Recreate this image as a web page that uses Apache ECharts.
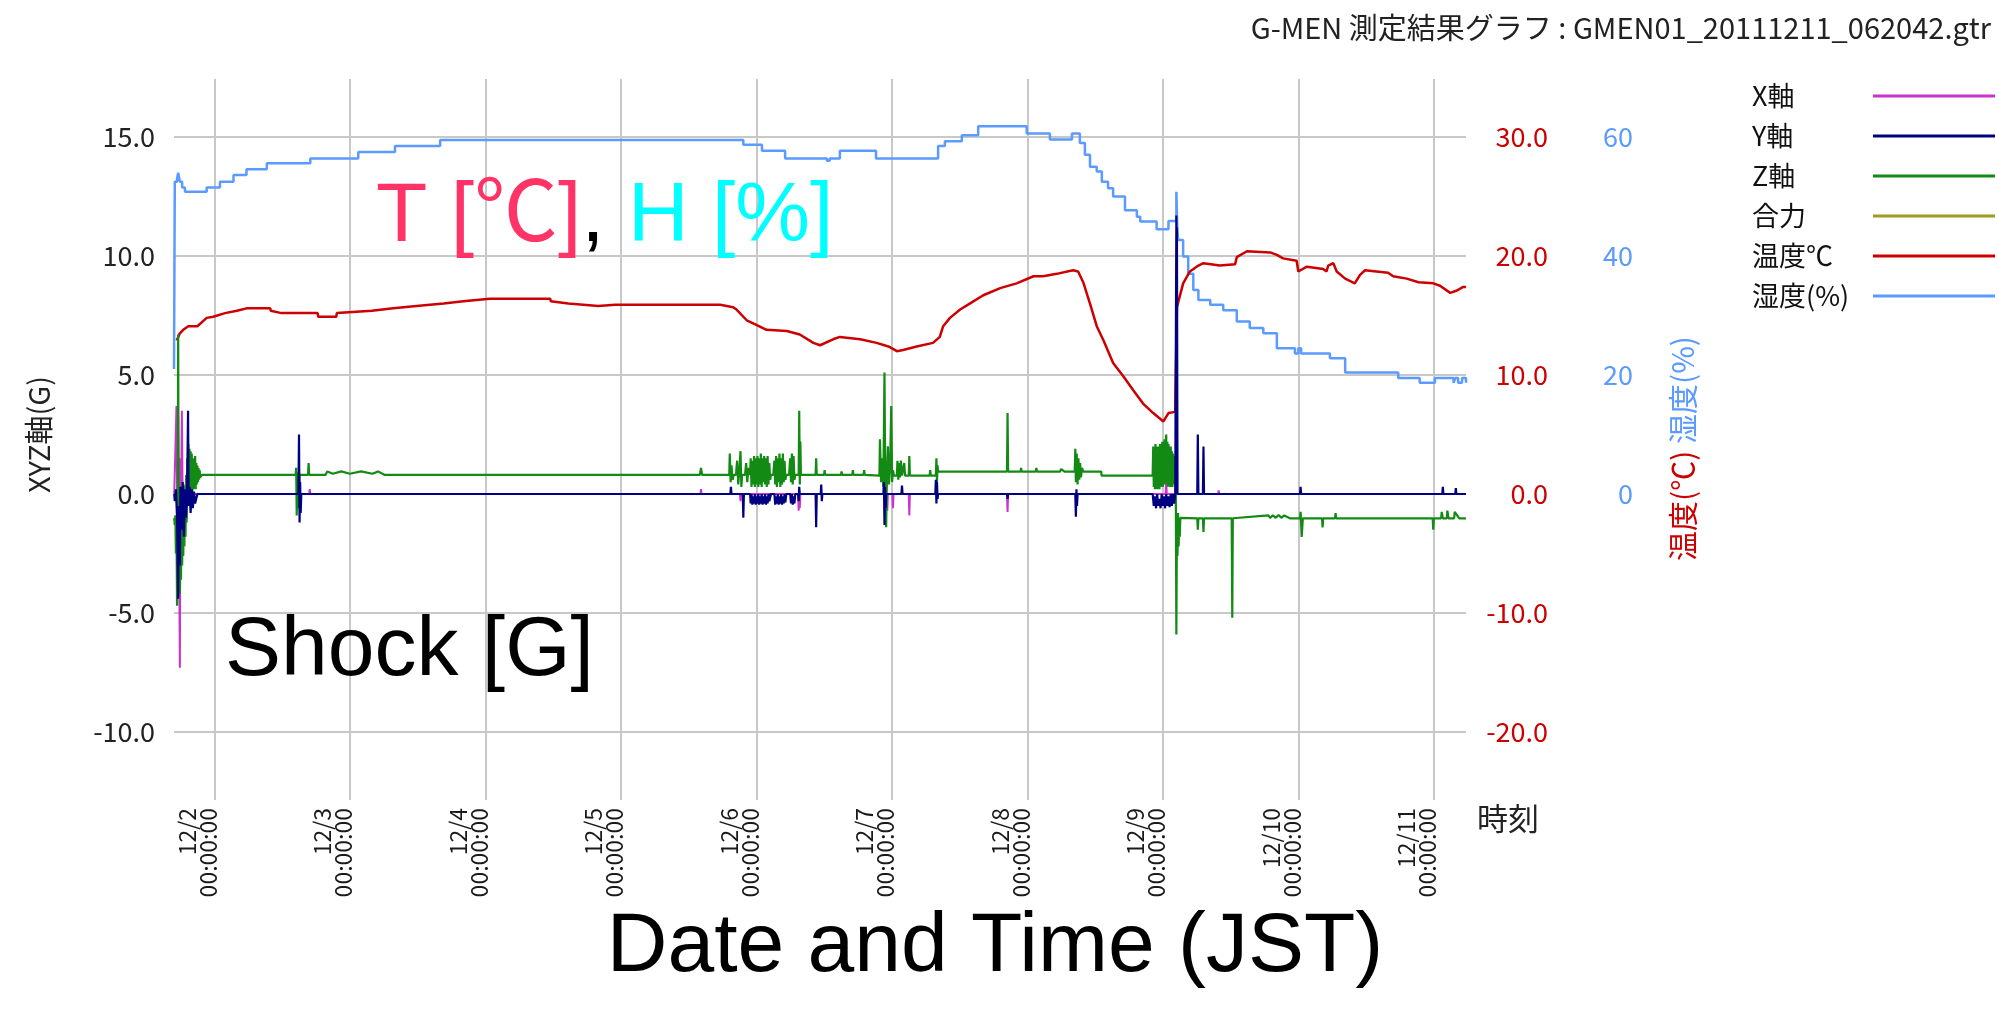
<!DOCTYPE html>
<html><head><meta charset="utf-8">
<script src="https://cdn.jsdelivr.net/npm/echarts@6/dist/echarts.min.js"></script>
<style>html,body{margin:0;padding:0;background:#fff}#c{width:1997px;height:1010px}</style>
</head><body><div id="c"></div>
<script>
// Time is stored as hours since 2011-12-01 00:00 (JST)
const startHour = 16.86;   // 12/1 ~16:52
const endHour = 245.7;     // 12/11 ~05:42

const gTicks = [-10, -5, 0, 5, 10, 15];
const tempTicks = [-20, -10, 0, 10, 20, 30];
const humTicks = [-40, -20, 0, 20, 40, 60];

const legendNames = ['X軸', 'Y軸', 'Z軸', '合力', '温度℃', '湿度(%)'];

// 湿度(%) : [hour, %]  (value changes at given hour)
const humidity = [
  [16.86,21],[17.0,52.5],[17.4,53.0],[17.6,54.0],[17.9,52.5],[18.3,51.5],[18.8,50.8],
  [22.65,51.5],[25.0,52.5],[27.4,53.6],[29.7,54.6],[33.3,55.6],[41.0,56.4],[49.5,57.5],
  [56.0,58.5],[64.0,59.5],[117.7,58.7],[121.0,57.7],[125.1,56.4],[132.5,56.0],[133.0,56.4],
  [134.8,57.7],[141.2,56.4],[152.2,58.5],[153.4,59.3],[156.4,60.3],[159.3,61.8],[167.9,60.6],
  [172.0,59.6],[175.9,60.6],[177.3,59.0],[178.2,57.0],[179.1,55.0],[180.3,54.2],[181.2,52.5],
  [182.3,51.4],[183.2,50.0],[185.3,47.7],[187.4,46.6],[188.0,45.8],[190.9,44.5],[193.0,45.9],
  [194.4,50.8],[194.55,45.0],[194.7,42.7],[195.6,39.9],[196.5,37.0],[197.4,34.3],[198.3,32.6],
  [200.4,31.8],[202.7,30.9],[205.1,29.0],[207.4,27.9],[209.8,27.0],[212.2,24.5],[215.4,23.6],
  [216.0,24.5],[216.5,23.6],[221.6,22.8],[224.3,20.4],[233.7,19.5],[237.5,18.7],[240.2,19.5],
  [243.5,18.7],[243.8,19.5],[244.3,18.7],[245.0,19.5],[245.7,18.7]
];

// 温度℃ : [hour, °C]
const temperature = [
  [17.34,12.9],[17.9,13.5],[18.5,13.8],[19.4,14.1],[21.0,14.1],[22.65,14.8],[23.8,14.9],
  [25.9,15.2],[28.0,15.4],[29.7,15.6],[33.9,15.6],[34.0,15.4],[35.9,15.2],[42.3,15.2],
  [42.4,14.9],[45.6,14.9],[45.7,15.2],[51.9,15.4],[55.7,15.6],[59.8,15.8],[64.6,16.0],
  [68.1,16.2],[72.8,16.4],[83.5,16.4],[83.6,16.2],[86.7,16.0],[92.0,15.8],[95.0,15.9],
  [113.6,15.9],[115.9,15.7],[116.5,15.5],[118.3,14.6],[120.1,14.2],[121.8,13.8],[125.4,13.7],
  [127.7,13.4],[130.1,12.7],[131.3,12.5],[133.6,13.0],[134.8,13.2],[138.4,13.0],[141.3,12.7],
  [143.4,12.4],[144.9,12.0],[146.0,12.1],[148.4,12.4],[151.3,12.7],[152.5,13.2],[153.1,14.1],
  [154.3,14.8],[156.1,15.5],[157.8,16.0],[160.2,16.7],[163.2,17.3],[166.1,17.7],[169.1,18.3],
  [170.8,18.3],[173.2,18.5],[176.1,18.8],[177.0,18.7],[177.9,17.8],[179.1,16.0],[180.3,14.1],
  [181.5,12.9],[183.2,11.0],[185.0,9.9],[186.8,8.7],[188.5,7.6],[190.3,6.8],[192.1,6.1],
  [193.0,6.8],[194.2,6.9],[194.5,15.7],[195.6,17.7],[196.8,18.7],[198.3,19.2],[199.2,19.4],
  [202.1,19.2],[204.8,19.3],[205.1,19.9],[206.9,20.4],[211.0,20.3],[212.2,20.1],[213.3,19.8],
  [215.7,19.6],[216.0,18.7],[217.5,19.1],[220.4,18.9],[221.0,18.7],[221.3,19.2],[222.2,19.4],
  [222.8,18.7],[224.3,18.1],[226.0,17.7],[226.9,18.4],[227.8,18.8],[231.9,18.6],[232.8,18.3],
  [235.2,18.1],[237.3,17.8],[239.9,17.7],[241.1,17.5],[242.9,16.9],[244.1,17.1],[245.2,17.4],
  [245.7,17.4]
];

// X軸 (G)
const shockX = [
  [16.9,0],[17.2,0],[17.3,3.7],[17.45,-1.0],[17.6,3.3],[17.75,-2.0],[17.9,-7.3],[18.0,1.5],
  [18.1,-1.0],[18.25,3.5],[18.4,-0.5],[18.6,0.4],[18.8,-0.3],[19.0,0],
  [40.8,0],[40.9,0.2],[41.0,0],[110.1,0],[110.2,0.2],[110.3,0],
  [117.1,0],[117.2,-0.3],[117.3,0],[127.4,0],[127.5,-0.7],[127.6,-0.2],[127.7,-0.6],[127.8,0],
  [143.1,0],[143.2,-0.7],[143.3,0],[144.1,0],[144.2,-0.6],[144.3,0],[147.0,0],[147.1,-0.9],[147.2,0],
  [164.4,0],[164.5,-0.75],[164.6,0],[192.5,0],[192.6,0.5],[192.7,0],
  [201.8,0],[201.9,0.15],[202.0,0],[245.7,0]
];

// Y軸 (G)
const shockY = [
  [16.9,0],[17.0,-0.3],[17.2,0.2],[17.4,-1.0],[17.6,-4.4],[17.7,-0.5],[17.9,-3.0],[18.0,0.3],
  [18.2,-1.5],[18.4,0.5],[18.6,-1.8],[18.8,0.2],[19.0,-1.0],[19.2,0.4],[19.35,3.5],[19.45,-0.5],
  [19.6,0.3],[19.8,-0.8],[20.0,0.2],[20.2,-0.6],[20.4,0.1],[20.6,-0.4],[21.0,0],
  [38.9,0],[39.0,2.5],[39.1,-1.2],[39.2,0.5],[39.3,-0.8],[39.4,0],
  [115.4,0],[115.5,0.3],[115.6,0],[117.6,0],[117.7,-1.0],[117.8,0],[118.9,0],[119.0,-0.4],
  [119.15,0],[119.3,-0.45],[119.45,-0.1],[119.6,-0.4],[119.75,0],[119.9,-0.45],[120.05,-0.1],
  [120.2,-0.4],[120.35,0],[120.5,-0.45],[120.65,-0.1],[120.8,-0.4],[120.95,0],[121.1,-0.45],
  [121.25,-0.1],[121.4,-0.4],[121.55,0],[121.7,-0.45],[121.85,-0.1],[122.0,-0.4],[122.15,0],
  [122.3,-0.3],[122.6,0],[123.2,0],[123.35,-0.45],[123.5,-0.1],[123.65,-0.4],[123.8,0],
  [123.95,-0.45],[124.1,-0.1],[124.25,-0.4],[124.4,0],[124.55,-0.45],[124.7,-0.1],[124.85,-0.4],
  [125.0,0],[125.15,-0.35],[125.3,0],[126.0,0],[126.15,-0.4],[126.3,0],[126.45,-0.45],
  [126.6,-0.1],[126.75,-0.4],[126.9,0],[127.4,0],[127.5,-0.3],[127.6,0.3],[127.7,0],
  [130.5,0],[130.6,-1.4],[130.7,0],[131.4,0],[131.5,0.4],[131.6,-0.3],[131.7,0],
  [142.5,0],[142.6,0.5],[142.7,-1.3],[142.8,0.3],[142.9,-0.6],[143.0,0],[145.7,0],[145.8,0.35],
  [145.9,0],[151.7,0],[151.8,0.6],[151.9,-0.4],[152.0,0.5],[152.1,-0.2],[152.2,0],
  [164.4,0],[164.5,-0.2],[164.6,0],[176.5,0],[176.6,-0.95],[176.7,0.2],[176.8,-0.5],[176.9,0],
  [190.2,0],[190.4,-0.5],[190.6,-0.1],[190.8,-0.6],[191.0,0],[191.2,-0.5],[191.4,-0.2],
  [191.6,-0.6],[191.8,0],[192.0,-0.5],[192.2,-0.1],[192.4,-0.6],[192.6,0],[192.8,-0.5],
  [193.0,-0.1],[193.2,-0.55],[193.4,0],[193.6,-0.5],[193.8,0],[194.0,-0.4],[194.2,0],
  [194.35,0],[194.4,11.7],[194.45,6.0],[194.5,11.2],[194.55,5.8],[194.6,0],
  [198.1,0],[198.2,2.5],[198.3,0],[199.1,0],[199.2,2.0],[199.3,0],
  [216.3,0],[216.4,0.3],[216.5,0],[241.5,0],[241.6,0.3],[241.7,0],[243.8,0],[243.9,0.25],
  [244.0,0],[245.7,0]
];

// Z軸 (G)
const shockZ = [
  [16.9,-1.0],[17.0,-1.3],[17.1,-0.9],[17.2,-2.5],[17.3,-1.2],[17.4,-4.7],[17.5,-2.0],[17.6,6.7],
  [17.7,-3.5],[17.8,-1.0],[17.9,-4.2],[18.0,-1.5],[18.1,-3.6],[18.2,-0.8],[18.3,-3.0],[18.4,-1.0],
  [18.5,-2.6],[18.6,-0.5],[18.7,-2.2],[18.8,0.3],[18.9,-1.8],[19.0,0.8],[19.1,-1.2],[19.2,1.5],
  [19.3,-0.5],[19.4,2.1],[19.5,-0.3],[19.6,1.9],[19.7,-0.2],[19.8,1.8],[19.9,0.0],[20.0,1.7],
  [20.1,0.1],[20.2,1.5],[20.3,0.2],[20.4,1.4],[20.5,0.3],[20.6,1.6],[20.7,0.2],[20.8,1.3],
  [20.9,0.4],[21.0,1.2],[21.1,0.5],[21.2,1.1],[21.3,0.6],[21.4,1.0],[21.5,0.7],[21.8,0.8],
  [38.4,0.8],[38.5,1.1],[38.6,-0.9],[38.7,0.9],[38.8,-0.6],[38.9,0.8],[39.0,-0.3],[39.1,0.8],
  [40.6,0.8],[40.7,1.3],[40.8,0.8],[43.7,0.8],[44.0,0.95],[45.0,0.85],[46.5,0.95],[48.0,0.85],
  [50.0,0.95],[52.0,0.85],[53.0,0.95],[54.2,0.8],
  [110.0,0.8],[110.2,1.1],[110.4,0.8],
  [115.2,0.8],[115.3,1.7],[115.45,0.5],[115.6,1.2],[115.8,0.6],[116.0,0.8],[116.4,0.8],[116.6,1.4],
  [116.8,0.4],[117.0,1.0],[117.2,1.8],[117.35,0.3],[117.5,0.8],[118.0,0.8],[118.2,1.3],[118.4,0.5],
  [118.6,1.1],[118.9,0.8],[119.0,1.5],[119.15,0.3],[119.3,1.4],[119.45,0.4],[119.6,1.6],[119.75,0.3],
  [119.9,1.5],[120.05,0.4],[120.2,1.6],[120.35,0.3],[120.5,1.5],[120.65,0.4],[120.8,1.7],[120.95,0.3],
  [121.1,1.5],[121.25,0.5],[121.4,1.6],[121.55,0.4],[121.7,1.5],[121.85,0.3],[122.0,1.6],[122.15,0.4],
  [122.3,1.3],[122.45,0.6],[122.6,0.8],[123.0,0.8],[123.2,1.4],[123.35,0.4],[123.5,1.6],[123.65,0.3],
  [123.8,1.5],[123.95,0.5],[124.1,1.7],[124.25,0.3],[124.4,1.5],[124.55,0.4],[124.7,1.7],[124.85,0.5],
  [125.0,1.4],[125.15,0.6],[125.3,0.8],[125.8,0.8],[126.0,1.5],[126.15,0.5],[126.3,1.7],[126.45,0.4],
  [126.6,1.6],[126.75,0.6],[126.9,0.8],[127.5,0.8],[127.6,3.5],[127.7,0.4],[127.8,2.2],[127.9,0.8],
  [130.5,0.8],[130.6,1.5],[130.7,0.8],[132.0,0.8],[132.1,1.0],[132.2,0.8],[135.0,0.8],[135.1,0.95],
  [135.2,0.8],[137.0,0.8],[137.1,1.0],[137.2,0.8],[139.0,0.8],[139.1,1.0],[139.2,0.8],
  [141.8,0.77],[141.9,2.3],[142.1,0.5],[142.3,1.5],[142.5,0.3],[142.7,5.1],[142.85,-0.2],[143.0,-1.4],
  [143.15,1.0],[143.3,2.0],[143.5,0.4],[143.7,1.2],[143.9,3.7],[144.05,0.5],[144.2,1.0],[144.4,0.77],
  [144.9,0.77],[145.0,1.4],[145.15,0.6],[145.3,1.3],[145.45,0.7],[145.6,1.4],[145.8,0.77],[146.1,0.77],
  [146.2,1.3],[146.35,0.77],[147.0,0.77],[147.1,1.6],[147.2,0.77],[150.7,0.77],[150.8,1.0],
  [150.9,0.77],[151.8,0.77],[151.9,1.5],[152.0,0.5],[152.1,1.2],[152.2,0.94],
  [164.4,0.94],[164.5,3.4],[164.6,0.94],[166.8,0.94],[166.9,1.1],[167.0,0.94],[169.5,0.94],
  [169.6,1.1],[169.7,0.94],[173.8,0.94],[174.0,1.05],[174.6,0.94],
  [176.4,0.94],[176.5,1.9],[176.6,0.5],[176.75,1.7],[176.9,0.4],[177.05,1.5],[177.2,0.6],
  [177.35,1.3],[177.5,0.7],[177.7,1.1],[177.9,0.94],[181.1,0.94],[181.15,0.77],
  [190.2,0.77],[190.3,2.0],[190.4,0.3],[190.5,1.9],[190.6,0.2],[190.7,2.1],[190.8,0.3],[190.9,1.8],
  [191.0,0.2],[191.1,2.0],[191.2,0.4],[191.3,1.9],[191.4,0.2],[191.5,2.1],[191.6,0.3],[191.7,2.0],
  [191.8,0.4],[191.9,2.2],[192.0,0.3],[192.1,1.9],[192.2,0.5],[192.3,2.3],[192.4,0.4],[192.5,2.0],
  [192.6,2.5],[192.7,0.5],[192.8,2.2],[192.9,0.3],[193.0,2.1],[193.1,0.4],[193.2,1.9],[193.3,0.3],
  [193.4,2.0],[193.5,0.5],[193.6,1.8],[193.7,0.3],[193.8,1.7],[193.9,0.4],[194.0,1.6],[194.1,0.5],
  [194.2,1.2],[194.3,0.2],[194.4,-5.9],[194.5,-1.0],[194.6,-2.6],[194.7,-0.8],[194.8,-2.2],
  [194.9,-1.2],[195.0,-1.8],[195.1,-1.0],[195.3,-1.02],
  [198.1,-1.02],[198.2,-1.5],[198.3,-1.02],[199.1,-1.02],[199.2,-1.6],[199.3,-1.02],
  [204.2,-1.02],[204.3,-5.2],[204.4,-1.02],
  [210.7,-0.9],[211.0,-1.0],[211.5,-0.9],[212.0,-1.0],[212.5,-0.88],[213.0,-1.0],[213.5,-0.9],
  [214.5,-1.02],[216.3,-1.02],[216.4,-0.75],[216.6,-1.8],[216.8,-1.02],[220.2,-1.02],[220.3,-1.4],
  [220.4,-1.02],[222.5,-1.02],[222.6,-0.8],[222.7,-1.02],[239.8,-1.02],[239.9,-1.5],[240.0,-1.02],
  [241.3,-1.02],[241.4,-0.75],[241.6,-1.02],[242.3,-1.02],[242.4,-0.7],[242.6,-1.02],[243.6,-1.02],
  [243.7,-0.75],[244.0,-0.8],[244.5,-1.02],[245.7,-1.02]
];

const colors = {X:'#cc33cc', Y:'#000080', Z:'#138a13', F:'#9c9c1e', T:'#cc0000', H:'#5b9bff'};

const T0 = Date.UTC(2011, 11, 1, 0, 0, 0);
const toTime = h => T0 + h * 3600000;
const toSeries = arr => arr.map(p => [toTime(p[0]), p[1]]);
const DAY = 24 * 3600000;
const FONT = "'Noto Sans CJK JP', sans-serif";
const BIG = "'Liberation Sans', 'Noto Sans CJK JP', sans-serif";

const chart = echarts.init(document.getElementById('c'), null, {renderer: 'canvas'});

function lineSeries(name, data, color, yIdx, width, extra) {
  return Object.assign({
    name, type: 'line', xAxisIndex: 0, yAxisIndex: yIdx, data: toSeries(data),
    showSymbol: false, symbol: 'none', silent: true, clip: false,
    lineStyle: {color, width}, itemStyle: {color}
  }, extra || {});
}

const xCommon = {type: 'time', min: toTime(startHour), max: toTime(endHour)};

chart.setOption({
  animation: false,
  useUTC: true,
  backgroundColor: '#ffffff',
  title: {
    text: 'G-MEN 測定結果グラフ : GMEN01_20111211_062042.gtr',
    right: 6, top: 13, padding: 0,
    textStyle: {fontSize: 29, fontWeight: 'normal', fontFamily: FONT, color: '#222'}
  },
  legend: {
    orient: 'vertical', left: 1752, top: 81, padding: 0, align: 'right',
    icon: 'rect', itemWidth: 122, itemHeight: 3, itemGap: 10,
    selectedMode: false, data: legendNames,
    formatter: n => '{a|' + n + '}',
    textStyle: {fontSize: 27, fontFamily: FONT, color: '#111', lineHeight: 30,
      rich: {a: {width: 116, align: 'left', fontSize: 27, lineHeight: 30, fontFamily: FONT, color: '#111'}}}
  },
  grid: [
    {left: 174, right: 531, top: 137, bottom: 278},
    {left: 174, right: 531, top: 79, bottom: 210}
  ],
  xAxis: [
    Object.assign({gridIndex: 0, show: false}, xCommon),
    Object.assign({
      gridIndex: 1, minInterval: DAY, maxInterval: DAY,
      axisLine: {show: false}, axisTick: {show: false},
      splitLine: {show: true, showMinLine: false, showMaxLine: false, lineStyle: {color: '#c8c8c8', width: 2}},
      axisLabel: {
        rotate: 90, interval: 0, margin: 8, fontSize: 23, lineHeight: 21, color: '#1a1a1a', fontFamily: FONT,
        hideOverlap: false, padding: [0, 0, 34, 0],
        formatter: v => {
          const d = new Date(v);
          if (d.getUTCHours() !== 0 || d.getUTCMinutes() !== 0) return '';
          return (d.getUTCMonth() + 1) + '/' + d.getUTCDate() + '\n00:00:00';
        }
      }
    }, xCommon)
  ],
  yAxis: [
    {
      type: 'value', gridIndex: 0, position: 'left',
      min: gTicks[0], max: gTicks[gTicks.length - 1], interval: gTicks[1] - gTicks[0],
      axisLine: {show: false}, axisTick: {show: false},
      axisLabel: {formatter: v => v.toFixed(1), fontSize: 27, color: '#222', margin: 19, fontFamily: FONT},
      splitLine: {show: true, lineStyle: {color: '#c8c8c8', width: 2}},
      name: 'XYZ軸(G)', nameLocation: 'middle', nameRotate: 90, nameGap: 121,
      nameTextStyle: {fontSize: 29, color: '#222', fontFamily: FONT}
    },
    {
      type: 'value', gridIndex: 0, position: 'right',
      min: tempTicks[0], max: tempTicks[tempTicks.length - 1], interval: tempTicks[1] - tempTicks[0],
      axisLine: {show: false}, axisTick: {show: false}, splitLine: {show: false},
      axisLabel: {formatter: v => v.toFixed(1), align: 'right', margin: 82, fontSize: 27, color: colors.T, fontFamily: FONT},
      name: '{r|温度(℃)} {b|湿度(%)}', nameLocation: 'middle', nameRotate: 90, nameGap: 202,
      nameTextStyle: {fontSize: 30, fontFamily: FONT, padding: [0, 28, 0, 0],
        rich: {r: {color: colors.T, fontSize: 30, fontFamily: FONT}, b: {color: colors.H, fontSize: 30, fontFamily: FONT}}}
    },
    {
      type: 'value', gridIndex: 0, position: 'right',
      min: humTicks[0], max: humTicks[humTicks.length - 1], interval: humTicks[1] - humTicks[0],
      axisLine: {show: false}, axisTick: {show: false}, splitLine: {show: false},
      axisLabel: {formatter: v => (v < 0 ? '' : String(v)), align: 'right', margin: 167, fontSize: 27, color: colors.H, fontFamily: FONT}
    },
    {type: 'value', gridIndex: 1, show: false, min: 0, max: 1}
  ],
  series: [
    lineSeries('湿度(%)', humidity, colors.H, 2, 2.5, {step: 'end'}),
    lineSeries('温度℃', temperature, colors.T, 1, 2.5),
    lineSeries('X軸', shockX, colors.X, 0, 2),
    lineSeries('Z軸', shockZ, colors.Z, 0, 2.2),
    lineSeries('Y軸', shockY, colors.Y, 0, 2.2),
    lineSeries('合力', [], colors.F, 0, 2)
  ],
  graphic: [
    {type: 'text', left: 1477, top: 803, silent: true,
      style: {text: '時刻', fontSize: 31, fontFamily: FONT, fill: '#222'}},
    {type: 'text', x: 376, y: 218, z: 100, silent: true,
      style: {text: '{t|T [℃]}{k|, }{h|H [%]}', verticalAlign: 'middle', align: 'left',
        fontSize: 84, fontFamily: BIG,
        rich: {t: {fill: '#ff3366', fontSize: 84, fontFamily: BIG},
               k: {fill: '#000000', fontSize: 84, fontFamily: BIG},
               h: {fill: '#00ffff', fontSize: 84, fontFamily: BIG}}}},
    {type: 'text', x: 225, y: 652, z: 100, silent: true,
      style: {text: 'Shock [G]', verticalAlign: 'middle', align: 'left', fontSize: 84, fontFamily: BIG, fill: '#000'}},
    {type: 'text', x: 995, y: 948, z: 100, silent: true,
      style: {text: 'Date and Time (JST)', verticalAlign: 'middle', align: 'center', fontSize: 84, fontFamily: BIG, fill: '#000'}}
  ]
});
</script></body></html>
